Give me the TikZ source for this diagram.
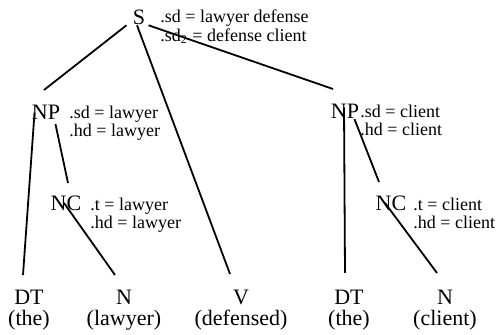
\documentclass[tikz,border=0pt]{standalone}
\usepackage{fontspec}
\setmainfont{Liberation Serif}

\begin{document}
\begin{tikzpicture}[x=0.5pt, y=-0.5pt,
		cat/.style={inner sep=0pt, font=\fontsize{11}{10.5}\selectfont},
		leaf/.style={cat, anchor=north, align=center},
		feat/.style={inner sep=0pt, anchor=north west, align=left, font=\fontsize{9}{9.2}\selectfont},
		branch/.style={line width=0.9pt}]
		%%%%% START %%%%%
		\useasboundingbox (0,0) rectangle (497,335);
		
		\node[cat] (S) at (139,17.5) {S};
		\node[feat] (S-feat) at (160,9.7) {.sd = lawyer defense\\.sd\textsubscript{2} = defense client};
		
		\node[cat] (NP1) at (46,112.5) {NP};
		\node[feat] (NP1-feat) at (69,105.7) {.sd = lawyer\\.hd = lawyer};
		\node[cat] (NC1) at (66,203) {NC};
		\node[feat] (NC1-feat) at (90,197.7) {.t = lawyer\\.hd = lawyer};
		
		\node[cat] (NP2) at (345,111.5) {NP};
		\node[feat] (NP2-feat) at (360,104.7) {.sd = client\\.hd = client};
		\node[cat] (NC2) at (391,203) {NC};
		\node[feat] (NC2-feat) at (413,197.7) {.t = client\\.hd = client};
		
		\node[leaf] (DT1) at (29,290) {DT\\(the)};
		\node[leaf] (N1) at (124,290) {N\\(lawyer)};
		\node[leaf] (V) at (241,290) {V\\(defensed)};
		\node[leaf] (DT2) at (349,290) {DT\\(the)};
		\node[leaf] (N2) at (445,290) {N\\(client)};
		
		\coordinate (np1-up) at (44,90);
		\coordinate (v-up) at (230,274);
		\coordinate (np2-up) at (333,89);
		\coordinate (dt1-up) at (23,275);
		\coordinate (nc1-up) at (68,183);
		\coordinate (n1-up) at (115,275);
		\coordinate (dt2-up) at (345,273);
		\coordinate (nc2-up) at (379,182);
		\coordinate (n2-up) at (437,273);
		
		\draw[branch] ([xshift=-3pt]S.south west) -- (np1-up);
		\draw[branch] ([xshift=-1pt]S.south) -- (v-up);
		\draw[branch] ([xshift=1.5pt]S.south east) -- (np2-up);
		
		\draw[branch] ([xshift=1.5pt]NP1.west) -- (dt1-up);
		\draw[branch] ([xshift=-2.5pt, yshift=-2pt]NP1.south east) -- (nc1-up);
		\draw[branch] ([xshift=-1pt]NC1.center) -- (n1-up);
		
		\draw[branch] ([xshift=-0.5pt, yshift=2pt]NP2.center) -- (dt2-up);
		\draw[branch] ([xshift=-2.5pt]NP2.south east) -- (nc2-up);
		\draw[branch] ([xshift=-3pt]NC2.center) -- (n2-up);
		%%%%% END %%%%%
	\end{tikzpicture}
\end{document}
